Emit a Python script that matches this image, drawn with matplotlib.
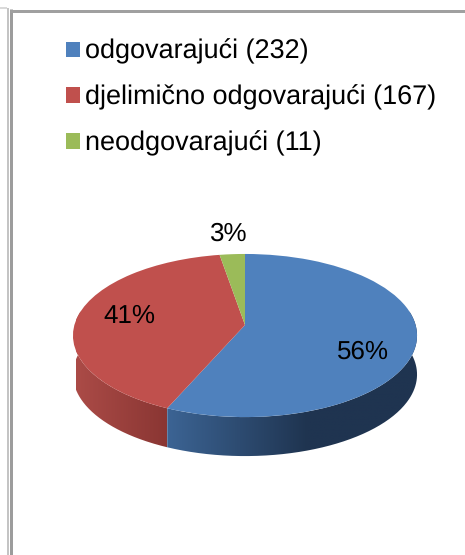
import numpy as np
import matplotlib
matplotlib.use("Agg")
import matplotlib.pyplot as plt
from matplotlib.patches import PathPatch
from matplotlib.path import Path
from matplotlib.colors import to_rgb

categories = ["odgovarajući (232)", "djelimično odgovarajući (167)", "neodgovarajući (11)"]
values = [232, 167, 11]
pct_labels = ["56%", "41%", "3%"]
colors = ["#4F81BD", "#C0504D", "#9BBB59"]
W, H = 465, 555
plt.rcParams["font.family"] = ["Liberation Sans", "DejaVu Sans"]
plt.rcParams["text.hinting"] = "no_hinting"
plt.rcParams["text.hinting_factor"] = 1

fig = plt.figure(figsize=(W / 100, H / 100), dpi=100, facecolor="white")

# frame
bg = fig.add_axes([0, 0, 1, 1])
bg.set_xlim(0, W); bg.set_ylim(H, 0); bg.axis("off")
PT = 0.72
bg.plot([11, 11], [9, H], color="#9C9C9C", lw=3 * PT, solid_capstyle="butt")
bg.plot([7.5, 7.5], [8, H], color="#C4C4C4", lw=2 * PT, solid_capstyle="butt")
bg.plot([9.5, W], [10.5, 10.5], color="#A0A0A0", lw=3 * PT, solid_capstyle="butt")
bg.plot([0, 7], [7.5, 7.5], color="#DADADA", lw=2 * PT, solid_capstyle="butt")

# pie: full-figure axes in pixel offsets from the apex
AX, AY = 245, 325
ax = fig.add_axes([0, 0, 1, 1])
wedges, _ = ax.pie(values, colors=colors, startangle=90, counterclock=False, radius=1)
ax.set_aspect("auto")
ax.set_xlim(-AX, W - AX); ax.set_ylim(AY - H, AY)
ax.patch.set_visible(False)
ax.set_zorder(2)

# projective tilt of the unit disc
K, SX, SY = 0.129, 170.6, 80.2
def project(u, v):
    d = 1 + K * v
    return SX * u / d, SY * v / d

for w in wedges:
    w.set_linewidth(0)
    w.set_clip_on(False)
    w.set_zorder(3)
    p = w.get_path()
    v = p.vertices.copy()
    X, Y = project(v[:, 0], v[:, 1])
    p.vertices = np.column_stack([X, Y])

# side wall, from the same angles, with a horizontal gradient
DEPTH = 39
edges = np.cumsum([0] + values) / sum(values) * 360
side = [("#3C6494", "#1F3450", 0, 80, -78, 62), ("#AB4B47", "#8A3633", 1, 280, -169, -78)]
for c1, c2, i, lim, x0, x1 in side:
    t0, t1 = fracs = edges[i], edges[i + 1]
    t0, t1 = max(t0, 80), min(t1, 280)
    ts = np.radians(np.linspace(t0, t1, 200))
    xs, ys = project(np.sin(ts), np.cos(ts))
    poly = np.vstack([np.column_stack([xs, ys]),
                      np.column_stack([xs[::-1], ys[::-1] - DEPTH])])
    patch = PathPatch(Path(poly, closed=False), fc="none", ec="none", transform=ax.transData)
    ax.add_patch(patch)
    grad = np.linspace(0, 1, 256)[None, :, None]
    a, b = np.array(to_rgb(c1)), np.array(to_rgb(c2))
    img = a + (b - a) * grad
    xa, xb = (x0, x1) if i == 0 else (x0, x1)
    right = 175 if i == 0 else x1
    if i == 0:
        # ramp up to x1, flat dark beyond
        n = 256
        xx = np.linspace(x0, right, n)
        f = np.clip((xx - x0) / (x1 - x0), 0, 1)[None, :, None]
        img = a + (b - a) * f
    im = ax.imshow(img, extent=[x0, right, -140, 60], aspect="auto", zorder=1,
                   interpolation="bilinear", clip_on=True)
    im.set_clip_path(patch)
ax.set_xlim(-AX, W - AX); ax.set_ylim(AY - H, AY)

# percentage labels
pct_pos = [(363, 352), (129, 316), (228, 234)]
for s, (x, y) in zip(pct_labels, pct_pos):
    ax.text(x - AX, AY - y, s, fontsize=18.7, ha="center", va="center",
            color="black", clip_on=False, zorder=5)

# legend
leg = fig.legend(wedges, categories, loc="upper left", bbox_to_anchor=(66 / W, 1 - 39 / H),
                 frameon=False, fontsize=19.1, handlelength=0.53, handleheight=0.53,
                 handletextpad=0.2, labelspacing=0.766, borderaxespad=0, borderpad=0)
fig.savefig("out.png", dpi=100)
